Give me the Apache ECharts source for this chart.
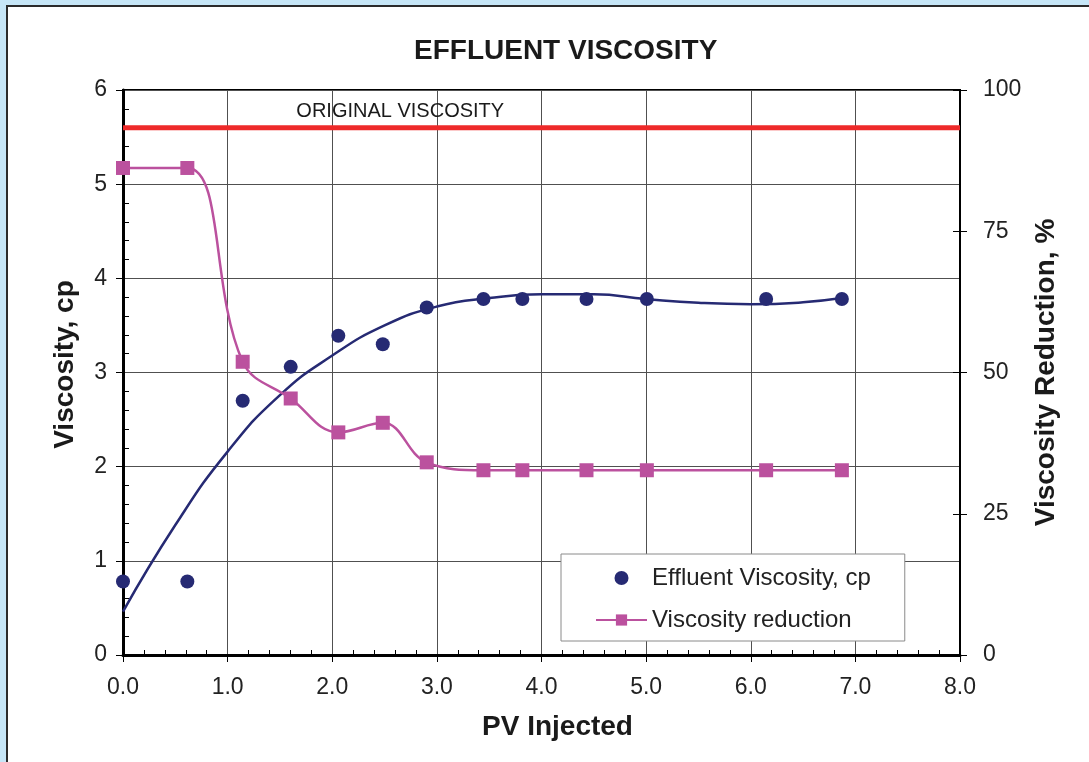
<!DOCTYPE html>
<html>
<head>
<meta charset="utf-8">
<script src="https://cdn.jsdelivr.net/npm/echarts@6/dist/echarts.min.js"></script>
<style>
  html, body { margin: 0; padding: 0; background: #c6e6f7; overflow: hidden; }
  #frame { position: absolute; left: 6px; top: 5px; width: 1200px; height: 900px; background: #ffffff; border: 2px solid #2b2b2b; }
  #chart { position: absolute; left: 0; top: 0; width: 1089px; height: 762px; }
</style>
</head>
<body>
<div id="frame"></div>
<div id="chart"></div>
<script>
// ---- data ----
const pvInjected = [0, 0.615, 1.144, 1.603, 2.058, 2.483, 2.903, 3.445, 3.817, 4.43, 5.007, 6.147, 6.871];
const effluentViscosity = [0.78, 0.78, 2.70, 3.06, 3.39, 3.30, 3.69, 3.78, 3.78, 3.78, 3.78, 3.78, 3.78];
const viscosityReduction = [86.2, 86.2, 51.9, 45.4, 39.4, 41.1, 34.1, 32.7, 32.7, 32.7, 32.7, 32.7, 32.7];
const trendPV = [0, 0.5, 1.0, 1.5, 2.0, 2.5, 3.0, 3.5, 4.0, 4.5, 5.0, 5.5, 6.0, 6.5, 6.87];
const trendViscosity = [0.46, 1.38, 2.16, 2.76, 3.18, 3.50, 3.70, 3.79, 3.83, 3.83, 3.78, 3.74, 3.725, 3.745, 3.79];
const originalViscosity = 5.6;
const originalLabelPV = 2.65;
const xTicks = [0, 8, 1];
const yLeftTicks = [0, 6, 1];
const yRightTicks = [0, 100, 25];

const FONT = '"Liberation Sans", Arial, sans-serif';
const zip = (a, b) => a.map((v, i) => [v, b[i]]);

const chart = echarts.init(document.getElementById('chart'), null, { renderer: 'canvas' });
const option = {
  backgroundColor: 'transparent',
  animation: false,
  textStyle: { fontFamily: FONT },
  title: {
    text: 'EFFLUENT VISCOSITY',
    left: 409, top: 32,
    textStyle: { fontFamily: FONT, fontSize: 28, fontWeight: 'bold', color: '#1a1a1a' }
  },
  grid: { left: 123, right: 129, top: 90, bottom: 107, show: true, borderColor: '#000', borderWidth: 2, backgroundColor: 'transparent' },
  legend: {
    left: 561, top: 554,
    orient: 'vertical',
    padding: [12, 34, 9, 34],
    backgroundColor: '#fff',
    borderColor: '#8a8a8a', borderWidth: 1,
    itemWidth: 51, itemHeight: 14, itemGap: 18,
    textStyle: { fontFamily: FONT, fontSize: 24, color: '#222', lineHeight: 24 },
    data: [{ name: 'Effluent Viscosity, cp', icon: 'circle' }, { name: 'Viscosity reduction' }]
  },
  xAxis: {
    type: 'value', min: xTicks[0], max: xTicks[1], interval: xTicks[2],
    name: 'PV Injected', nameLocation: 'middle', nameGap: 58,
    nameTextStyle: { fontFamily: FONT, fontSize: 28, fontWeight: 'bold', color: '#1a1a1a', padding: [0, 0, 0, 32] },
    axisLine: { show: true, lineStyle: { color: '#000', width: 3 } },
    axisTick: { show: true, length: 7, lineStyle: { color: '#000', width: 1 } },
    minorTick: { show: true, splitNumber: 5, length: -5, lineStyle: { color: '#000', width: 1 } },
    axisLabel: { fontFamily: FONT, fontSize: 23, color: '#222', margin: 21, formatter: v => v.toFixed(1) },
    splitLine: { show: true, lineStyle: { color: '#505050', width: 1 } }
  },
  yAxis: [
    {
      type: 'value', min: yLeftTicks[0], max: yLeftTicks[1], interval: yLeftTicks[2],
      name: 'Viscosity, cp', nameLocation: 'middle', nameGap: 44,
      nameTextStyle: { fontFamily: FONT, fontSize: 28, fontWeight: 'bold', color: '#1a1a1a', padding: [0, 0, 0, 16] },
      axisLine: { show: true, lineStyle: { color: '#000', width: 3 } },
      axisTick: { show: true, length: 7, lineStyle: { color: '#000', width: 1 } },
      minorTick: { show: true, splitNumber: 5, length: -6, lineStyle: { color: '#000', width: 1 } },
      axisLabel: { fontFamily: FONT, fontSize: 23, color: '#222', margin: 16 },
      splitLine: { show: true, lineStyle: { color: '#505050', width: 1 } }
    },
    {
      type: 'value', min: yRightTicks[0], max: yRightTicks[1], interval: yRightTicks[2], position: 'right',
      name: 'Viscosity Reduction, %', nameLocation: 'middle', nameGap: 51,
      nameTextStyle: { fontFamily: FONT, fontSize: 28, fontWeight: 'bold', color: '#1a1a1a' },
      axisLine: { show: true, lineStyle: { color: '#000', width: 2 } },
      axisTick: { show: true, length: 7, lineStyle: { color: '#000', width: 1 } },
      axisLabel: { fontFamily: FONT, fontSize: 23, color: '#222', margin: 23 },
      splitLine: { show: false }
    },
    {
      type: 'value', min: yRightTicks[0], max: yRightTicks[1], interval: yRightTicks[2], position: 'right',
      axisLine: { show: false },
      axisTick: { show: true, inside: true, length: 7, lineStyle: { color: '#000', width: 1 } },
      axisLabel: { show: false },
      splitLine: { show: false }
    }
  ],
  series: [
    {
      name: 'Original', type: 'line', yAxisIndex: 0, symbol: 'none', silent: true,
      lineStyle: { color: '#ee2a2a', width: 5 },
      data: [[xTicks[0], originalViscosity], [xTicks[1], originalViscosity]],
      z: 3
    },
    {
      name: 'OriginalLabel', type: 'scatter', yAxisIndex: 0, symbolSize: 0, silent: true,
      itemStyle: { opacity: 1 },
      label: { show: true, position: 'top', distance: 6, formatter: 'ORIGINAL VISCOSITY', fontFamily: FONT, fontSize: 20, color: '#1a1a1a' },
      data: [[originalLabelPV, originalViscosity]],
      z: 3
    },
    {
      name: 'Trend', type: 'line', yAxisIndex: 0, symbol: 'none', smooth: 0.5, silent: true,
      lineStyle: { color: '#262a73', width: 2.5 },
      data: zip(trendPV, trendViscosity),
      z: 4
    },
    {
      name: 'Viscosity reduction', type: 'line', yAxisIndex: 1, smooth: 0.4,
      symbol: 'rect', symbolSize: 14,
      itemStyle: { color: '#bb519e', opacity: 1 },
      lineStyle: { color: '#bb519e', width: 2.5 },
      data: zip(pvInjected, viscosityReduction),
      z: 5
    },
    {
      name: 'Effluent Viscosity, cp', type: 'scatter', yAxisIndex: 0,
      symbol: 'circle', symbolSize: 14,
      itemStyle: { color: '#262a73', opacity: 1 },
      data: zip(pvInjected, effluentViscosity),
      z: 6
    }
  ]
};
chart.setOption(option);
</script>
</body>
</html>
